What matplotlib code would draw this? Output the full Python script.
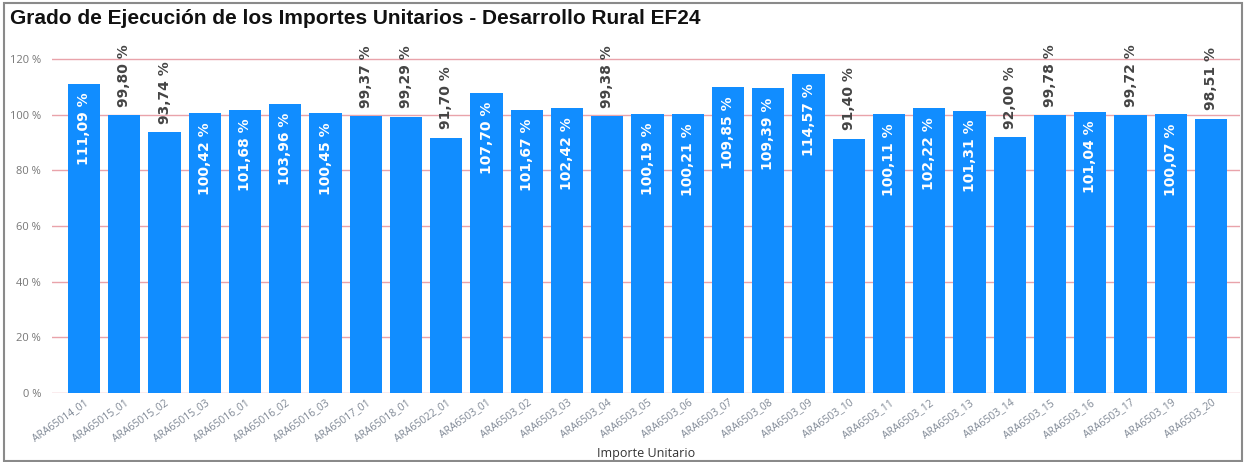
import matplotlib
matplotlib.use("Agg")
import matplotlib.pyplot as plt
from matplotlib.patches import Rectangle

categories = ["ARA65014_01", "ARA65015_01", "ARA65015_02", "ARA65015_03", "ARA65016_01",
              "ARA65016_02", "ARA65016_03", "ARA65017_01", "ARA65018_01", "ARA65022_01",
              "ARA6503_01", "ARA6503_02", "ARA6503_03", "ARA6503_04", "ARA6503_05",
              "ARA6503_06", "ARA6503_07", "ARA6503_08", "ARA6503_09", "ARA6503_10",
              "ARA6503_11", "ARA6503_12", "ARA6503_13", "ARA6503_14", "ARA6503_15",
              "ARA6503_16", "ARA6503_17", "ARA6503_19", "ARA6503_20"]
values = [111.09, 99.80, 93.74, 100.42, 101.68, 103.96, 100.45, 99.37, 99.29, 91.70,
          107.70, 101.67, 102.42, 99.38, 100.19, 100.21, 109.85, 109.39, 114.57, 91.40,
          100.11, 102.22, 101.31, 92.00, 99.78, 101.04, 99.72, 100.07, 98.51]
yticks = [0, 20, 40, 60, 80, 100, 120]

W, H = 1245, 462
fig = plt.figure(figsize=(W / 100, H / 100), dpi=100)
ax = fig.add_axes([52 / W, 1 - 393 / H, (1240 - 52) / W, (393 - 45) / H])

x = list(range(len(categories)))
ax.bar(x, values, width=0.8, color="#118DFF", zorder=3)

ax.set_ylim(0, 125)
ax.set_xlim(-0.795, len(categories) - 1 + 0.72)
ax.set_yticks(yticks)
ax.set_yticklabels([f"{v} %" for v in yticks], fontsize=8, color="#777777",
                   family=["Open Sans", "DejaVu Sans"])
ax.yaxis.grid(True, color="#E9A3AA", linewidth=1, zorder=0)
ax.tick_params(axis="y", length=0, pad=8)
ax.tick_params(axis="x", length=0, pad=3)
for s in ax.spines.values():
    s.set_visible(False)

ax.set_xticks(x)
ax.set_xticklabels(categories, rotation=35, ha="right", rotation_mode="anchor",
                   fontsize=7.5, color="#7E8794", family=["Open Sans", "DejaVu Sans"])
ax.set_xlabel("Importe Unitario", fontsize=9, color="#333333",
              family=["Open Sans", "DejaVu Sans"], labelpad=2)

for xi, v in zip(x, values):
    txt = f"{v:.2f}".replace(".", ",") + " %"
    if v > 100:
        ax.text(xi, v - 3.2, txt, rotation=90, ha="center", va="top", color="white",
                fontsize=10, fontweight="bold", family=["DejaVu Sans"], zorder=4)
    else:
        ax.text(xi, v + 3.0, txt, rotation=90, ha="center", va="bottom", color="#444444",
                fontsize=10, fontweight="bold", family=["DejaVu Sans"], zorder=4)

fig.text(10 / W, 1 - 18 / H, "Grado de Ejecución de los Importes Unitarios - Desarrollo Rural EF24",
         fontsize=15, fontweight="bold", family=["Liberation Sans", "DejaVu Sans"],
         color="#111111", va="center", ha="left")

fig.patches.append(Rectangle((4 / W, 1 / H), (W - 7) / W, (H - 4) / H, transform=fig.transFigure,
                             fill=False, edgecolor="#8A8A8A", linewidth=1.5))

fig.savefig("out.png", dpi=100)
